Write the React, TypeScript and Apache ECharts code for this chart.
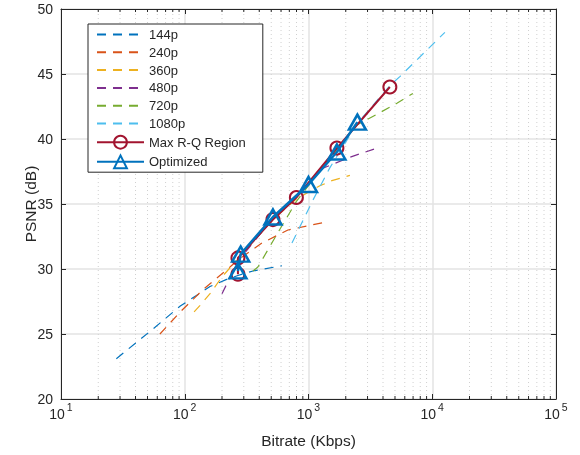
import React, { useEffect, useRef } from "react";
import * as echarts from "echarts";

const FONT = "'Liberation Sans', Arial, Helvetica, sans-serif";
const TXT = "#262626";

const names = ["144p", "240p", "360p", "480p", "720p", "1080p", "Max R-Q Region", "Optimized"];
const colors = ["#0072BD", "#D95319", "#EDB120", "#7E2F8E", "#77AC30", "#4DBEEE"];

const res144 = [[28, 23.1], [54, 25.3], [92, 27.15], [160, 28.65], [218, 29.2], [269, 29.5], [356, 29.85], [610, 30.25]];
const res240 = [[63, 25.0], [92, 26.7], [140, 28.4], [232, 30.15], [269, 30.7], [421, 32.0], [682, 33.0], [1357, 33.6]];
const res360 = [[119, 26.7], [133, 27.2], [163, 28.2], [200, 29.4], [295, 31.2], [516, 33.8], [800, 35.4], [1236, 36.4], [1545, 36.8], [2160, 37.2]];
const res480 = [[200, 28.1], [269, 30.6], [400, 32.6], [516, 33.9], [798, 35.5], [1307, 37.75], [2160, 38.6], [3705, 39.35]];
const res720 = [[356, 29.85], [390, 30.15], [566, 32.8], [798, 35.2], [1200, 37.4], [1696, 39.2], [2483, 41.1], [3570, 41.9], [5180, 42.75], [6970, 43.5]];
const res1080 = [[735, 32.0], [1086, 35.3], [1490, 37.8], [2483, 41.2], [4544, 44.1], [5470, 44.8], [12650, 48.2]];
const maxRQ = [[269, 29.6], [269, 30.85], [516, 33.8], [798, 35.5], [1696, 39.3], [4544, 44.0]];
const optimized = [[269, 29.85], [283, 31.15], [516, 34.0], [1000, 36.5], [1696, 39.0], [2483, 41.3]];

const xMin = 10;
const xMax = 100000;
const yMin = 20;
const yMax = 50;
const yStep = 5;
const minorX = [2, 3, 4, 5, 6, 7, 8, 9].flatMap((m) => [10, 100, 1000, 10000].map((d) => m * d));

export default function App() {
  const ref = useRef<HTMLDivElement>(null);
  useEffect(() => {
    if (!ref.current) return;
    const chart = echarts.init(ref.current, null, { renderer: "svg" });
    const dashed = [res144, res240, res360, res480, res720, res1080].map((d, i) => ({
      name: names[i],
      type: "line",
      data: d,
      symbol: "none",
      showSymbol: false,
      smooth: false,
      z: 3,
      lineStyle: { color: colors[i], width: 1.2, type: [9, 7] },
      itemStyle: { color: colors[i] },
    }));
    const axisLineStyle = { color: TXT, width: 1 };
    const legendData = names.map((n, i) =>
      i < 6 ? { name: n, itemStyle: { opacity: 0 } } : { name: n }
    );
    chart.setOption({
      animation: false,
      textStyle: { fontFamily: FONT },
      grid: { left: 61, right: 24, top: 9, bottom: 56, containLabel: false },
      legend: {
        data: legendData,
        orient: "vertical",
        left: 88,
        top: 24,
        itemWidth: 47,
        itemHeight: 16,
        itemGap: 4.8,
        padding: [4, 17, 3, 8],
        backgroundColor: "#ffffff",
        borderColor: TXT,
        borderWidth: 1,
        borderRadius: 0,
        textStyle: { fontSize: 13, color: TXT, fontFamily: FONT },
      },
      xAxis: [
        {
          type: "log",
          logBase: 10,
          min: xMin,
          max: xMax,
          name: "Bitrate (Kbps)",
          nameLocation: "middle",
          nameGap: 33,
          nameMoveOverlap: false,
          nameTextStyle: { fontSize: 15.5, color: TXT, fontFamily: FONT },
          axisLine: { show: true, lineStyle: axisLineStyle },
          axisTick: { show: true, inside: true, length: 5, lineStyle: axisLineStyle },
          splitLine: { show: true, lineStyle: { color: "#e3e3e3", width: 1.5 } },
          axisLabel: {
            margin: 8,
            formatter: (v: number) => `{b|10}{s|${Math.round(Math.log10(v))}}`,
            rich: {
              b: { fontSize: 14, color: TXT, fontFamily: FONT, lineHeight: 14, verticalAlign: "bottom" },
              s: { fontSize: 10.5, color: TXT, fontFamily: FONT, lineHeight: 10, padding: [0, 0, 9, 2], verticalAlign: "bottom" },
            },
          },
        },
        {
          type: "log",
          logBase: 10,
          min: xMin,
          max: xMax,
          position: "top",
          axisLine: { show: true, lineStyle: axisLineStyle },
          axisTick: { show: true, inside: true, length: 5, lineStyle: axisLineStyle },
          axisLabel: { show: false },
          splitLine: { show: false },
        },
      ],
      yAxis: [
        {
          type: "value",
          min: yMin,
          max: yMax,
          interval: yStep,
          name: "PSNR (dB)",
          nameLocation: "middle",
          nameGap: 23,
          nameMoveOverlap: false,
          nameTextStyle: { fontSize: 15.5, color: TXT, fontFamily: FONT },
          axisLine: { show: true, lineStyle: axisLineStyle },
          axisTick: { show: true, inside: true, length: 5, lineStyle: axisLineStyle },
          splitLine: { show: true, lineStyle: { color: "#e3e3e3", width: 1.5 } },
          axisLabel: { margin: 8, fontSize: 14, color: TXT, fontFamily: FONT },
        },
        {
          type: "value",
          min: yMin,
          max: yMax,
          interval: yStep,
          position: "right",
          axisLine: { show: true, lineStyle: axisLineStyle },
          axisTick: { show: true, inside: true, length: 5, lineStyle: axisLineStyle },
          axisLabel: { show: false },
          splitLine: { show: false },
        },
      ],
      series: [
        {
          type: "custom",
          silent: true,
          z: 1,
          clip: false,
          data: minorX.map((v) => [v, yMin]),
          renderItem: (params: any, api: any) => {
            const v = api.value(0);
            const b = api.coord([v, yMin]);
            const t = api.coord([v, yMax]);
            return {
              type: "group",
              children: [
                { type: "line", shape: { x1: b[0], y1: b[1], x2: t[0], y2: t[1] }, style: { stroke: "#d0d0d0", lineWidth: 1, lineDash: [1, 3] } },
                { type: "line", shape: { x1: b[0], y1: b[1], x2: b[0], y2: b[1] - 3 }, style: { stroke: TXT, lineWidth: 1 } },
                { type: "line", shape: { x1: t[0], y1: t[1], x2: t[0], y2: t[1] + 3 }, style: { stroke: TXT, lineWidth: 1 } },
              ],
            };
          },
        },
        ...dashed,
        {
          name: names[6],
          type: "line",
          data: maxRQ,
          symbol: "circle",
          symbolSize: 13,
          showSymbol: true,
          z: 4,
          lineStyle: { color: "#A2142F", width: 2 },
          itemStyle: { color: "transparent", borderColor: "#A2142F", borderWidth: 2 },
        },
        {
          name: names[7],
          type: "line",
          data: optimized,
          symbol: "triangle",
          symbolSize: [17, 15],
          showSymbol: true,
          z: 5,
          lineStyle: { color: "#0072BD", width: 2.5 },
          itemStyle: { color: "transparent", borderColor: "#0072BD", borderWidth: 2.5 },
        },
      ],
    });
    return () => chart.dispose();
  }, []);
  return <div ref={ref} style={{ position: "fixed", left: 0, top: 0, width: 580, height: 455 }} />;
}
